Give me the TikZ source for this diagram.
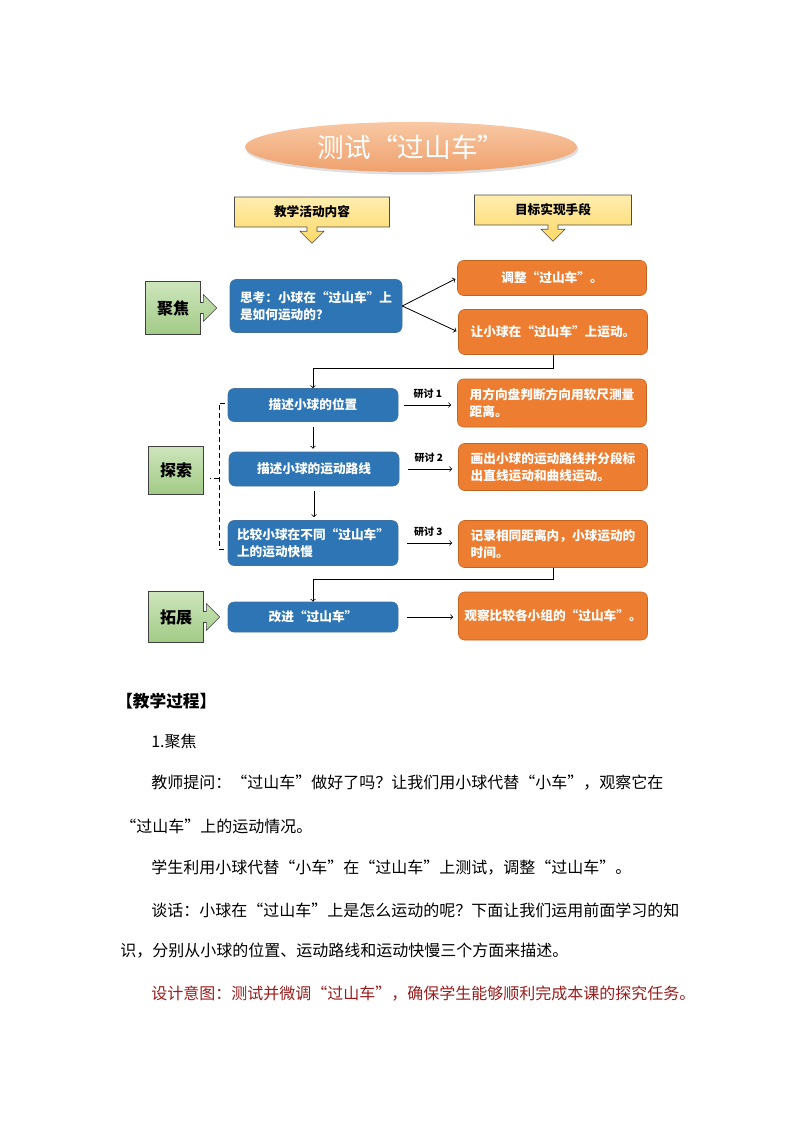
\documentclass[tikz,border=0pt]{standalone}
\usepackage{fontspec}
\setmainfont{Noto Sans CJK SC}
\usepackage{tikz}
\usetikzlibrary{arrows, shapes.arrows, shapes.geometric, shadows}

\definecolor{actblue}{HTML}{2E75B6}
\definecolor{actedge}{HTML}{41719C}
\definecolor{goalorange}{HTML}{ED7D31}
\definecolor{goaledge}{HTML}{C0641F}
\definecolor{headtop}{HTML}{FFEDB0}
\definecolor{headbot}{HTML}{FFD966}
\definecolor{stagetop}{HTML}{CDE5BC}
\definecolor{stagebot}{HTML}{A2CB86}
\definecolor{titletop}{HTML}{F8C8A4}
\definecolor{titlebot}{HTML}{EFA06C}
\definecolor{intentred}{HTML}{9B1C1C}

\newlength\pxu
\setlength\pxu{0.75pt}

\begin{document}
\begin{tikzpicture}
        [x=0.75pt, y=-0.75pt,
        boxfont/.style={font=\fontsize{9.5}{13}\selectfont\bfseries},
        actbox/.style={rectangle, rounded corners=6\pxu, draw=actedge, fill=actblue, text=white, minimum width=170\pxu, inner sep=0pt, boxfont},
        goalbox/.style={rectangle, rounded corners=6\pxu, draw=goaledge, fill=goalorange, text=white, minimum width=189\pxu, inner sep=0pt, align=left, boxfont},
        headbox/.style={arrow box, draw=black!70, top color=headtop, bottom color=headbot, minimum height=30\pxu, inner sep=0pt, arrow box shaft width=10\pxu, arrow box head extend=7\pxu, arrow box arrows={north:0pt, east:0pt, west:0pt, south:16\pxu from border}, boxfont},
        stagebox/.style={rectangle, draw=black!75, top color=stagetop, bottom color=stagebot, minimum width=55\pxu, inner sep=0pt, font=\fontsize{12}{14}\selectfont\bfseries},
        stagearrow/.style={stagebox, arrow box, arrow box shaft width=11\pxu, arrow box head extend=8\pxu, arrow box arrows={north:0pt, south:0pt, west:0pt, east:16\pxu from border}},
        tag/.style={inner sep=0pt, font=\fontsize{7.5}{9}\selectfont\bfseries},
        arr/.style={->, >=to, semithick},
        dashline/.style={semithick, dash pattern=on 5\pxu off 3\pxu},
        body/.style={anchor=west, inner sep=0pt, font=\fontsize{12}{14}\selectfont}]
        \useasboundingbox (0,0) rectangle (794,1123);
        % title and column heads
        \node (title) at (411,147) [ellipse, minimum width=332\pxu, minimum height=50\pxu, inner sep=0pt, top color=titletop, bottom color=titlebot, drop shadow={opacity=0.25, shadow xshift=1pt, shadow yshift=-2pt}, text=white, font=\fontsize{20}{24}\selectfont] {测试“过山车”};
        \node (hact) at (312,212) [headbox, minimum width=155\pxu] {教学活动内容};
        \node (hgoal) at (553,210) [headbox, minimum width=157\pxu] {目标实现手段};
        % stages
        \node (focus) at (173,308) [stagearrow, minimum height=53\pxu] {聚焦};
        \node (explore) at (176,470) [stagebox, minimum height=48\pxu] {探索};
        \node (extend) at (176,617) [stagearrow, minimum height=51\pxu] {拓展};
        % activities
        \node (think) at (316,306) [actbox, minimum width=172\pxu, minimum height=53\pxu, align=left] {思考：小球在“过山车”上\\是如何运动的？};
        \node (pos) at (313,405) [actbox, minimum height=33\pxu] {描述小球的位置};
        \node (route) at (314,469) [actbox, minimum height=34\pxu] {描述小球的运动路线};
        \node (speed) at (313,543) [actbox, minimum height=45\pxu, align=left] {比较小球在不同“过山车”\\上的运动快慢};
        \node (improve) at (313,617) [actbox, minimum height=30\pxu] {改进“过山车”};
        % goals
        \node (adjust) at (552,278) [goalbox, minimum height=35\pxu] {调整“过山车”。};
        \node (run) at (553,332) [goalbox, minimum height=45\pxu] {让小球在“过山车”上运动。};
        \node (measure) at (552,403) [goalbox, minimum height=48\pxu] {用方向盘判断方向用软尺测量\\距离。};
        \node (draw) at (553,467) [goalbox, minimum height=47\pxu] {画出小球的运动路线并分段标\\出直线运动和曲线运动。};
        \node (time) at (553,544) [goalbox, minimum height=47\pxu] {记录相同距离内，小球运动的\\时间。};
        \node (compare) at (553,616) [goalbox, minimum height=48\pxu] {观察比较各小组的“过山车”。};
        % connectors
        \draw[arr, shorten >=2\pxu] (think.east) -- (adjust.west);
        \draw[arr, shorten >=2\pxu] (think.east) -- (run.west);
        \draw[arr] (run.south) -- ++(0,14) -| (pos.north);
        \draw[arr, shorten <=5\pxu, shorten >=3\pxu] (pos.south) -- (pos.south |- route.north);
        \draw[arr, shorten <=5\pxu, shorten >=3\pxu] (route.south) -- (route.south |- speed.north);
        \draw[arr] (time.south) -- ++(0,12) -| (improve.north);
        \draw[arr, shorten <=6\pxu, shorten >=6\pxu] (pos.east) -- node[tag, above=6\pxu] {研讨 1} (pos.east -| measure.west);
        \draw[arr, shorten <=9\pxu, shorten >=6\pxu] (route.east) -- node[tag, above=6\pxu] {研讨 2} (route.east -| draw.west);
        \draw[arr, shorten <=9\pxu, shorten >=6\pxu] (speed.east) -- node[tag, above=6\pxu] {研讨 3} (speed.east -| time.west);
        \draw[arr, shorten <=9\pxu, shorten >=5\pxu] (improve.east) -- (improve.east -| compare.west);
        % dashed bracket
        \coordinate (btop) at (225,403);
        \coordinate (bbot) at (225,549);
        \coordinate (bmid) at (219,478);
        \draw[dashline] (btop) -- ++(-6,0) |- (bbot);
        \draw[dashline] (bmid) -- ++(-9,0);
        % lesson text
        \node (heading) at (116,701) [body, font=\fontsize{12.5}{14}\selectfont\bfseries] {【教学过程】};
        \node (sec) at (151,741) [body] {1.聚焦};
        \node (ask1) at (151,783) [body] {教师提问：“过山车”做好了吗？让我们用小球代替“小车”，观察它在};
        \node (ask2) at (120,826) [body] {“过山车”上的运动情况。};
        \node (test) at (151,868) [body] {学生利用小球代替“小车”在“过山车”上测试，调整“过山车”。};
        \node (talk1) at (151,910) [body] {谈话：小球在“过山车”上是怎么运动的呢？下面让我们运用前面学习的知};
        \node (talk2) at (120,951) [body] {识，分别从小球的位置、运动路线和运动快慢三个方面来描述。};
        \node (intent) at (151,994) [body, text=intentred] {设计意图：测试并微调“过山车”，确保学生能够顺利完成本课的探究任务。};
\end{tikzpicture}
\end{document}
